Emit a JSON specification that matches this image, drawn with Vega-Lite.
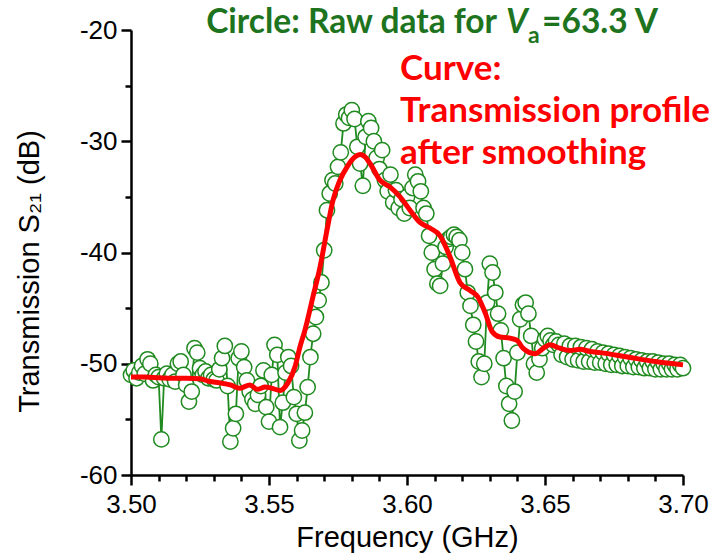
{
  "$schema": "https://vega.github.io/schema/vega-lite/v6.json",
  "width": 552,
  "height": 445,
  "autosize": {"type": "none"},
  "padding": {"left": 131, "top": 30, "right": 31, "bottom": 85},
  "background": "white",
  "config": {
    "view": {"stroke": null},
    "axis": {
      "grid": false,
      "domainColor": "black",
      "domainWidth": 2.5,
      "tickColor": "black",
      "tickWidth": 2.5,
      "labelColor": "black",
      "labelFont": "Liberation Sans",
      "labelFontSize": 26,
      "titleFont": "Liberation Sans",
      "titleFontSize": 29,
      "titleFontWeight": "normal",
      "titleColor": "black"
    }
  },
  "datasets": {
    "raw": [
      {"f":3.500,"v":-51.0},{"f":3.501,"v":-50.6},{"f":3.502,"v":-51.3},{"f":3.503,"v":-50.8},{"f":3.504,"v":-50.2},
      {"f":3.505,"v":-50.9},{"f":3.506,"v":-49.6},{"f":3.507,"v":-50.0},{"f":3.508,"v":-51.5},{"f":3.509,"v":-51.0},
      {"f":3.510,"v":-51.2},{"f":3.511,"v":-56.8},{"f":3.512,"v":-51.3},{"f":3.513,"v":-50.9},{"f":3.514,"v":-51.4},
      {"f":3.515,"v":-51.0},{"f":3.516,"v":-51.6},{"f":3.517,"v":-50.0},{"f":3.518,"v":-49.8},{"f":3.519,"v":-51.0},
      {"f":3.520,"v":-51.9},{"f":3.521,"v":-53.4},{"f":3.522,"v":-52.5},{"f":3.523,"v":-48.6},{"f":3.524,"v":-49.0},
      {"f":3.525,"v":-50.4},{"f":3.526,"v":-51.0},{"f":3.527,"v":-50.7},{"f":3.528,"v":-51.3},{"f":3.529,"v":-51.0},
      {"f":3.530,"v":-51.4},{"f":3.531,"v":-51.5},{"f":3.532,"v":-50.5},{"f":3.533,"v":-49.5},{"f":3.534,"v":-48.4},
      {"f":3.535,"v":-52.0},{"f":3.536,"v":-57.0},{"f":3.537,"v":-55.8},{"f":3.538,"v":-54.5},{"f":3.539,"v":-49.5},
      {"f":3.540,"v":-48.9},{"f":3.541,"v":-50.3},{"f":3.542,"v":-51.5},{"f":3.543,"v":-52.5},{"f":3.544,"v":-53.2},
      {"f":3.545,"v":-53.6},{"f":3.546,"v":-52.8},{"f":3.547,"v":-52.0},{"f":3.548,"v":-50.6},{"f":3.549,"v":-53.9},
      {"f":3.550,"v":-55.2},{"f":3.551,"v":-51.0},{"f":3.552,"v":-48.3},{"f":3.553,"v":-49.2},{"f":3.554,"v":-55.7},
      {"f":3.555,"v":-53.5},{"f":3.556,"v":-50.8},{"f":3.557,"v":-49.4},{"f":3.558,"v":-50.2},{"f":3.559,"v":-53.0},
      {"f":3.560,"v":-54.5},{"f":3.561,"v":-56.9},{"f":3.562,"v":-56.0},{"f":3.563,"v":-54.4},{"f":3.564,"v":-52.1},
      {"f":3.565,"v":-49.4},{"f":3.566,"v":-47.3},{"f":3.567,"v":-45.8},{"f":3.568,"v":-44.3},{"f":3.569,"v":-42.7},
      {"f":3.570,"v":-39.8},{"f":3.571,"v":-36.2},{"f":3.572,"v":-34.7},{"f":3.573,"v":-33.5},{"f":3.574,"v":-33.8},
      {"f":3.575,"v":-32.3},{"f":3.576,"v":-31.0},{"f":3.577,"v":-28.4},{"f":3.578,"v":-27.6},{"f":3.579,"v":-27.9},
      {"f":3.580,"v":-27.2},{"f":3.581,"v":-28.0},{"f":3.582,"v":-30.5},{"f":3.583,"v":-32.0},{"f":3.584,"v":-34.0},
      {"f":3.585,"v":-29.6},{"f":3.586,"v":-28.2},{"f":3.587,"v":-28.8},{"f":3.588,"v":-30.0},{"f":3.589,"v":-31.5},
      {"f":3.590,"v":-32.5},{"f":3.591,"v":-30.8},{"f":3.592,"v":-33.5},{"f":3.593,"v":-34.5},{"f":3.594,"v":-33.0},
      {"f":3.595,"v":-35.5},{"f":3.596,"v":-34.4},{"f":3.597,"v":-36.0},{"f":3.598,"v":-35.2},{"f":3.599,"v":-36.5},
      {"f":3.600,"v":-35.0},{"f":3.601,"v":-36.0},{"f":3.602,"v":-34.2},{"f":3.603,"v":-33.0},{"f":3.604,"v":-33.6},
      {"f":3.605,"v":-34.5},{"f":3.606,"v":-36.0},{"f":3.607,"v":-36.5},{"f":3.608,"v":-38.5},{"f":3.609,"v":-40.0},
      {"f":3.610,"v":-41.5},{"f":3.611,"v":-42.8},{"f":3.612,"v":-43.0},{"f":3.613,"v":-41.0},{"f":3.614,"v":-39.5},
      {"f":3.615,"v":-38.8},{"f":3.616,"v":-38.6},{"f":3.617,"v":-38.4},{"f":3.618,"v":-38.6},{"f":3.619,"v":-38.9},
      {"f":3.620,"v":-40.0},{"f":3.621,"v":-41.5},{"f":3.622,"v":-43.6},{"f":3.623,"v":-44.8},{"f":3.624,"v":-46.5},
      {"f":3.625,"v":-48.0},{"f":3.626,"v":-49.8},{"f":3.627,"v":-51.2},{"f":3.628,"v":-50.0},{"f":3.629,"v":-44.5},
      {"f":3.630,"v":-41.0},{"f":3.631,"v":-41.8},{"f":3.632,"v":-43.6},{"f":3.633,"v":-45.5},{"f":3.634,"v":-47.0},
      {"f":3.635,"v":-49.5},{"f":3.636,"v":-52.0},{"f":3.637,"v":-53.6},{"f":3.638,"v":-55.1},{"f":3.639,"v":-52.5},
      {"f":3.640,"v":-49.0},{"f":3.641,"v":-46.0},{"f":3.642,"v":-44.7},{"f":3.643,"v":-44.5},{"f":3.644,"v":-45.5},
      {"f":3.645,"v":-47.5},{"f":3.646,"v":-50.0},{"f":3.647,"v":-50.8},{"f":3.648,"v":-49.6},{"f":3.649,"v":-48.6},
      {"f":3.650,"v":-47.8},{"f":3.651,"v":-47.5},{"f":3.652,"v":-47.9},{"f":3.653,"v":-48.3},{"f":3.654,"v":-48.0},
      {"f":3.655,"v":-48.3},{"f":3.656,"v":-49.2},{"f":3.657,"v":-48.2},{"f":3.658,"v":-49.4},{"f":3.659,"v":-48.4},
      {"f":3.660,"v":-49.6},{"f":3.661,"v":-48.4},{"f":3.662,"v":-49.7},{"f":3.663,"v":-48.5},{"f":3.664,"v":-49.8},
      {"f":3.665,"v":-48.6},{"f":3.666,"v":-49.8},{"f":3.667,"v":-48.7},{"f":3.668,"v":-49.9},{"f":3.669,"v":-48.9},
      {"f":3.670,"v":-49.9},{"f":3.671,"v":-49.0},{"f":3.672,"v":-50.0},{"f":3.673,"v":-49.1},{"f":3.674,"v":-50.1},
      {"f":3.675,"v":-49.2},{"f":3.676,"v":-50.1},{"f":3.677,"v":-49.3},{"f":3.678,"v":-50.2},{"f":3.679,"v":-49.4},
      {"f":3.680,"v":-50.2},{"f":3.681,"v":-49.5},{"f":3.682,"v":-50.3},{"f":3.683,"v":-49.6},{"f":3.684,"v":-50.3},
      {"f":3.685,"v":-49.7},{"f":3.686,"v":-50.4},{"f":3.687,"v":-49.8},{"f":3.688,"v":-50.4},{"f":3.689,"v":-49.8},
      {"f":3.690,"v":-50.5},{"f":3.691,"v":-49.9},{"f":3.692,"v":-50.5},{"f":3.693,"v":-50.0},{"f":3.694,"v":-50.5},
      {"f":3.695,"v":-50.0},{"f":3.696,"v":-50.5},{"f":3.697,"v":-50.1},{"f":3.698,"v":-50.5},{"f":3.699,"v":-50.1},
      {"f":3.700,"v":-50.4}
    ],
    "smooth": [
      {"f":3.500,"v":-51.2},{"f":3.505,"v":-51.2},{"f":3.510,"v":-51.25},{"f":3.515,"v":-51.3},{"f":3.520,"v":-51.3},
      {"f":3.525,"v":-51.35},{"f":3.5286,"v":-51.6},{"f":3.532,"v":-51.7},{"f":3.536,"v":-51.9},{"f":3.5395,"v":-52.2},
      {"f":3.5431,"v":-51.9},{"f":3.5457,"v":-52.3},{"f":3.5486,"v":-52.1},{"f":3.551,"v":-52.2},{"f":3.554,"v":-52.4},
      {"f":3.5569,"v":-51.7},{"f":3.5594,"v":-50.3},{"f":3.5612,"v":-48.5},{"f":3.563,"v":-47.0},{"f":3.5659,"v":-44.0},
      {"f":3.5685,"v":-41.3},{"f":3.571,"v":-38.0},{"f":3.5732,"v":-35.3},{"f":3.5757,"v":-33.5},{"f":3.5783,"v":-32.3},
      {"f":3.5812,"v":-31.4},{"f":3.583,"v":-31.2},{"f":3.5848,"v":-31.4},{"f":3.5866,"v":-32.0},{"f":3.5902,"v":-33.5},
      {"f":3.5938,"v":-34.1},{"f":3.5975,"v":-35.0},{"f":3.6011,"v":-36.2},{"f":3.6047,"v":-37.3},{"f":3.6083,"v":-37.8},
      {"f":3.612,"v":-38.5},{"f":3.6156,"v":-40.4},{"f":3.6192,"v":-42.7},{"f":3.6228,"v":-43.4},{"f":3.6257,"v":-44.0},
      {"f":3.6283,"v":-45.4},{"f":3.6308,"v":-47.1},{"f":3.6337,"v":-47.6},{"f":3.6373,"v":-47.7},{"f":3.6399,"v":-47.9},
      {"f":3.642,"v":-48.6},{"f":3.6464,"v":-49.1},{"f":3.650,"v":-48.5},{"f":3.6518,"v":-48.3},{"f":3.6554,"v":-48.6},
      {"f":3.6591,"v":-48.8},{"f":3.6627,"v":-48.7},{"f":3.6663,"v":-48.9},{"f":3.670,"v":-49.0},{"f":3.680,"v":-49.4},
      {"f":3.690,"v":-49.8},{"f":3.700,"v":-50.1}
    ],
    "greenNote": [{"f":3.6359,"v":-20.27}],
    "redNote": [{"f":3.5975,"v":-24.49,"t":"Curve:\nTransmission profile\nafter smoothing"}]
  },
  "resolve": {"axis": {"x": "independent", "y": "independent"}},
  "layer": [
    {
      "data": {"name": "raw"},
      "mark": {"type": "line", "color": "#1f8a1f", "strokeWidth": 1.8},
      "encoding": {
        "x": {"field": "f", "type": "quantitative", "scale": {"domain": [3.5, 3.7], "nice": false, "zero": false},
          "axis": {"orient": "bottom", "values": [3.5, 3.55, 3.6, 3.65, 3.7], "format": ".2f", "tickSize": 10, "labelPadding": 6, "title": "Frequency (GHz)", "titlePadding": 6, "labelFlush": false}},
        "y": {"field": "v", "type": "quantitative", "scale": {"domain": [-60, -20], "nice": false, "zero": false},
          "axis": {"orient": "left", "values": [-60, -50, -40, -30, -20], "labelExpr": "'' + datum.value", "tickSize": 10, "labelPadding": 4, "title": "Transmission S₂₁ (dB)", "titleX": -102, "titleY": 241, "titleAngle": 270, "titleAlign": "center", "titleBaseline": "middle", "labelFlush": false}}
      }
    },
    {
      "data": {"name": "raw"},
      "mark": {"type": "point", "shape": "circle", "filled": true, "fill": "white", "stroke": "#1f8a1f", "strokeWidth": 1.5, "size": 235, "opacity": 1},
      "encoding": {
        "x": {"field": "f", "type": "quantitative", "scale": {"domain": [3.5, 3.7], "nice": false, "zero": false},
          "axis": {"orient": "bottom", "values": [3.51, 3.52, 3.53, 3.54, 3.56, 3.57, 3.58, 3.59, 3.61, 3.62, 3.63, 3.64, 3.66, 3.67, 3.68, 3.69], "labels": false, "domain": false, "tickSize": 6, "title": null}},
        "y": {"field": "v", "type": "quantitative", "scale": {"domain": [-60, -20], "nice": false, "zero": false},
          "axis": {"orient": "left", "values": [-55, -45, -35, -25], "labels": false, "domain": false, "tickSize": 6, "title": null}}
      }
    },
    {
      "data": {"name": "smooth"},
      "mark": {"type": "line", "color": "#ff0000", "strokeWidth": 5, "interpolate": "monotone"},
      "encoding": {
        "x": {"field": "f", "type": "quantitative", "scale": {"domain": [3.5, 3.7], "nice": false, "zero": false}, "axis": null},
        "y": {"field": "v", "type": "quantitative", "scale": {"domain": [-60, -20], "nice": false, "zero": false}, "axis": null}
      }
    },
    {
      "data": {"name": "redNote"},
      "mark": {"type": "text", "align": "left", "baseline": "alphabetic", "lineBreak": "\n", "lineHeight": 42, "font": "Lato", "fontWeight": "bold", "fontSize": 35, "color": "#ff0000"},
      "encoding": {
        "x": {"field": "f", "type": "quantitative", "axis": null},
        "y": {"field": "v", "type": "quantitative", "axis": null},
        "text": {"field": "t"}
      }
    },
    {
      "data": {"name": "greenNote"},
      "mark": {"type": "text", "text": "Circle: Raw data for", "align": "right", "baseline": "alphabetic", "dx": -9, "font": "Lato", "fontWeight": "bold", "fontSize": 33.5, "color": "#1e741e"},
      "encoding": {
        "x": {"field": "f", "type": "quantitative", "axis": null},
        "y": {"field": "v", "type": "quantitative", "axis": null}
      }
    },
    {
      "data": {"name": "greenNote"},
      "mark": {"type": "text", "text": "V", "align": "left", "baseline": "alphabetic", "font": "Lato", "fontWeight": "bold", "fontStyle": "italic", "fontSize": 33.5, "color": "#1e741e"},
      "encoding": {
        "x": {"field": "f", "type": "quantitative", "axis": null},
        "y": {"field": "v", "type": "quantitative", "axis": null}
      }
    },
    {
      "data": {"name": "greenNote"},
      "mark": {"type": "text", "text": "a", "align": "left", "baseline": "alphabetic", "dx": 22, "dy": 10, "font": "Lato", "fontWeight": "bold", "fontSize": 23, "color": "#1e741e"},
      "encoding": {
        "x": {"field": "f", "type": "quantitative", "axis": null},
        "y": {"field": "v", "type": "quantitative", "axis": null}
      }
    },
    {
      "data": {"name": "greenNote"},
      "mark": {"type": "text", "text": "=63.3 V", "align": "left", "baseline": "alphabetic", "dx": 36, "font": "Lato", "fontWeight": "bold", "fontSize": 33.5, "color": "#1e741e"},
      "encoding": {
        "x": {"field": "f", "type": "quantitative", "axis": null},
        "y": {"field": "v", "type": "quantitative", "axis": null}
      }
    }
  ]
}
